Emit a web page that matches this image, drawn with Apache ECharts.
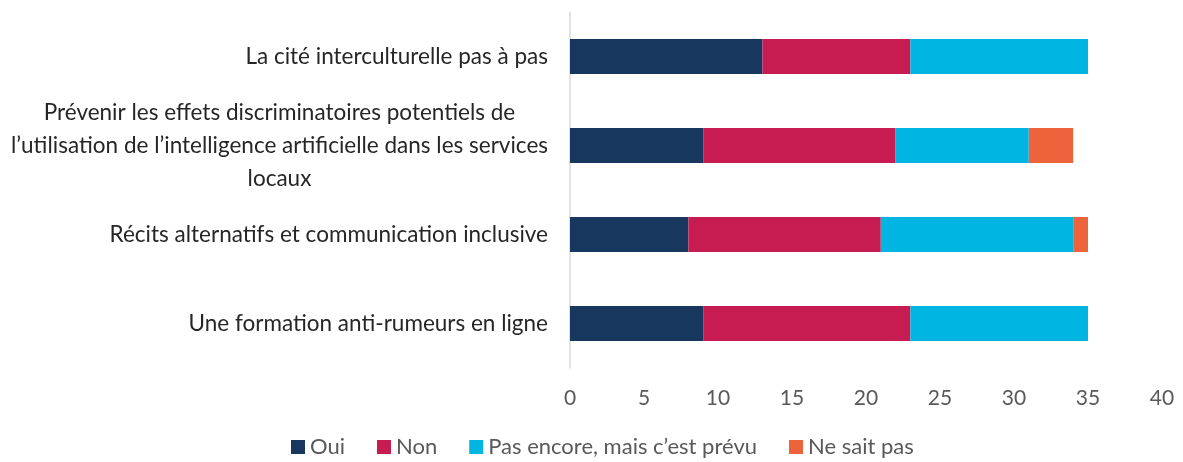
<!DOCTYPE html>
<html>
<head>
<meta charset="utf-8">
<script src="https://cdn.jsdelivr.net/npm/echarts@6/dist/echarts.min.js"></script>
<style>
  html, body { margin: 0; padding: 0; background: #fff; }
  #main { width: 1183px; height: 462px; }
</style>
</head>
<body>
<div id="main"></div>
<script>
// catégories (de haut en bas)
var categories = [
    'La cité interculturelle pas à pas',
    'Prévenir les effets discriminatoires potentiels de\nl’utilisation de l’intelligence artificielle dans les services\nlocaux',
    'Récits alternatifs et communication inclusive',
    'Une formation anti-rumeurs en ligne'
];
var seriesNames = ['Oui', 'Non', 'Pas encore, mais c’est prévu', 'Ne sait pas'];
var oui = [13, 9, 8, 9];
var non = [10, 13, 13, 14];
var prevu = [12, 9, 13, 12];
var nsp = [0, 3, 1, 0];
var colors = ['#17375e', '#c61c51', '#00b5e1', '#ed633b'];

var myChart = echarts.init(document.getElementById('main'));

var values = [oui, non, prevu, nsp];
var series = seriesNames.map(function (name, i) {
    return {
        name: name,
        type: 'bar',
        stack: 'total',
        barWidth: 35,
        itemStyle: { color: colors[i] },
        data: values[i]
    };
});

var font = 'Lato';

var option = {
    animation: false,
    textStyle: { fontFamily: font },
    color: colors,
    grid: { left: 570, right: 21, top: 12, bottom: 94 },
    legend: {
        top: 431,
        left: 286,
        itemWidth: 14,
        itemHeight: 14,
        itemGap: 32,
        icon: 'rect',
        textStyle: { fontSize: 22, color: '#595959', fontFamily: font },
        data: seriesNames
    },
    xAxis: {
        type: 'value',
        min: 0,
        max: 40,
        interval: 5,
        splitLine: { show: false },
        axisLine: { show: false },
        axisTick: { show: false },
        axisLabel: { fontSize: 21, color: '#595959', margin: 20, fontFamily: font }
    },
    yAxis: {
        type: 'category',
        inverse: true,
        data: categories,
        axisLine: { show: true, lineStyle: { color: '#d9d9d9', width: 1.5 } },
        axisTick: { show: false },
        axisLabel: {
            margin: 22,
            formatter: function (v) {
                return v.split('\n').map(function (l) { return '{c|' + l + '}'; }).join('\n');
            },
            rich: {
                c: { align: 'center', fontSize: 22.5, lineHeight: 33, color: '#262626', fontFamily: font }
            }
        }
    },
    series: series
};

myChart.setOption(option);
</script>
</body>
</html>
